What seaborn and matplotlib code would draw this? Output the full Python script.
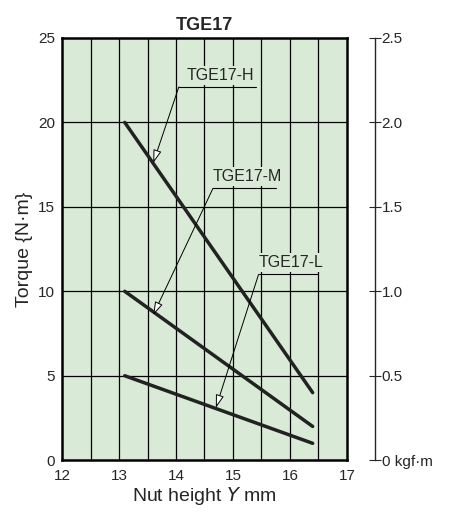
import numpy as np
import pandas as pd
import seaborn as sns
import matplotlib
matplotlib.use("Agg")
import matplotlib.pyplot as plt

# data
nut_height = [13.1, 16.4]
torque_h = [20, 4]
torque_m = [10, 2]
torque_l = [5, 1]
models = ["TGE17-H", "TGE17-M", "TGE17-L"]

rows = []
for name, vals in zip(models, [torque_h, torque_m, torque_l]):
    for x, y in zip(nut_height, vals):
        rows.append({"model": name, "Y": x, "torque": y})
df = pd.DataFrame(rows)

sns.set_style("white")
plt.rcParams["font.family"] = ["Liberation Sans", "DejaVu Sans"]
bg = "#d9ead6"

fig = plt.figure(figsize=(4.6, 5.2), dpi=100)
ax = fig.add_axes([0.135, 0.115, 0.619, 0.812])
ax.set_facecolor(bg)
for v in np.arange(12.5, 17, 0.5):
    ax.axvline(v, color="black", lw=0.9, zorder=1)
for h in [5, 10, 15, 20]:
    ax.axhline(h, color="black", lw=0.9, zorder=1)

sns.lineplot(data=df, x="Y", y="torque", units="model", estimator=None,
             color="#222222", lw=2.5, ax=ax, zorder=3)

ax.set_xlim(12, 17)
ax.set_ylim(0, 25)
ax.set_xticks(range(12, 18))
ax.set_yticks(range(0, 30, 5))
for s in ax.spines.values():
    s.set_linewidth(1.8)
    s.set_color("black")
ax.tick_params(axis="x", labelsize=11, length=0, pad=6)
ax.tick_params(axis="y", labelsize=11, length=0, pad=5)
ax.set_xlabel("Nut height $\\it{Y}$ mm", fontsize=14, labelpad=2)
ax.set_ylabel("Torque {N·m}", fontsize=14)
ax.set_title("TGE17", fontsize=13, fontweight="bold")

# labels with underline and open arrow
labels = [("TGE17-H", 14.05, 15.4, 22.1, (13.6, 17.6)),
          ("TGE17-M", 14.65, 15.75, 16.1, (13.6, 8.6)),
          ("TGE17-L", 15.45, 16.5, 11.0, (14.7, 3.1))]
for text, x0, x1, yu, tip in labels:
    ax.text((x0 + x1) / 2 + 0.05, yu + 0.25, text, ha="center", va="bottom", fontsize=11.5,
            bbox=dict(facecolor=bg, edgecolor="none", pad=1.5), zorder=4)
    ax.plot([x0, x1], [yu, yu], color="black", lw=0.8, zorder=4)
    ax.annotate("", xy=tip, xytext=(x0, yu), zorder=5,
                arrowprops=dict(arrowstyle="-|>,head_length=0.8,head_width=0.25",
                                fc="white", ec="black", lw=0.7, shrinkA=0, shrinkB=0))

ax2 = ax.twinx()
ax2.set_ylim(0, 2.5)
ax2.spines["right"].set_position(("axes", 1.098))
for k in ["top", "left", "bottom"]:
    ax2.spines[k].set_visible(False)
ax2.spines["right"].set_linewidth(1.0)
ax2.set_yticks([0, 0.5, 1.0, 1.5, 2.0, 2.5])
ax2.set_yticklabels(["0 kgf·m", "0.5", "1.0", "1.5", "2.0", "2.5"])
ax2.tick_params(direction="inout", length=8, labelsize=11, pad=1)

fig.savefig("out.png", dpi=100)
